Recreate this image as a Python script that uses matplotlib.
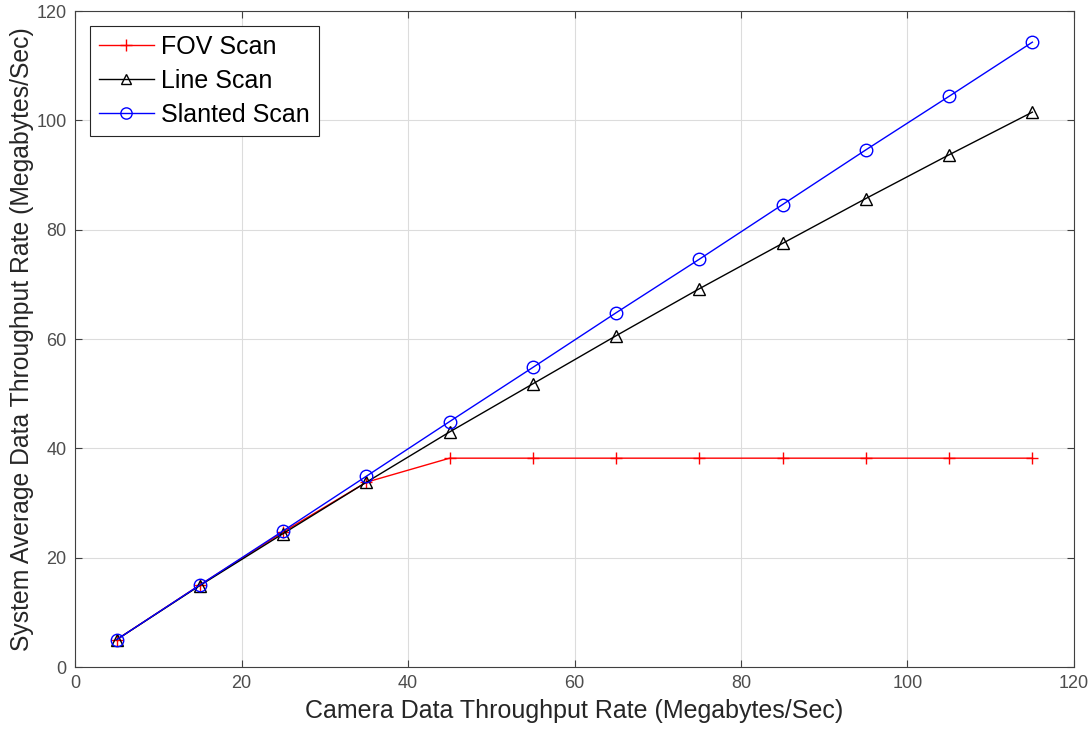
import matplotlib
matplotlib.use('Agg')
import matplotlib.pyplot as plt

plt.rcParams['font.family'] = ['Liberation Sans', 'DejaVu Sans']

camera_rate = [5, 15, 25, 35, 45, 55, 65, 75, 85, 95, 105, 115]
fov_scan = [5, 15, 24.7, 33.8, 38.2, 38.2, 38.2, 38.2, 38.2, 38.2, 38.2, 38.2]
line_scan = [5, 14.9, 24.4, 33.8, 43.0, 51.8, 60.6, 69.2, 77.5, 85.7, 93.7, 101.5]
slanted_scan = [5, 15, 24.9, 34.9, 44.9, 54.8, 64.8, 74.6, 84.6, 94.6, 104.4, 114.3]

fig = plt.figure(figsize=(10.91, 7.33), dpi=100)
ax = fig.add_axes([75/1091, 1 - 667/733, (1074-75)/1091, (667-11)/733])

ax.plot(camera_rate, fov_scan, color='red', marker='+', markersize=9, linewidth=1, label='FOV Scan')
ax.plot(camera_rate, line_scan, color='black', marker='^', markersize=8, markerfacecolor='none',
        linewidth=1, label='Line Scan')
ax.plot(camera_rate, slanted_scan, color='blue', marker='o', markersize=9, markerfacecolor='none',
        linewidth=1, label='Slanted Scan')

ax.set_xlim(0, 120)
ax.set_ylim(0, 120)
ax.set_xticks(range(0, 121, 20))
ax.set_yticks(range(0, 121, 20))
ax.grid(True, color='#dcdcdc', linewidth=0.8)
ax.set_axisbelow(True)
ax.tick_params(direction='in', labelsize=13, colors='#404040', labelcolor='#4d4d4d',
               length=5, pad=6, top=True, right=True)
ax.tick_params(labeltop=False, labelright=False)
for s in ax.spines.values():
    s.set_color('#404040')
    s.set_linewidth(0.8)

ax.set_xlabel('Camera Data Throughput Rate (Megabytes/Sec)', fontsize=18, color='#262626', labelpad=5)
ax.set_ylabel('System Average Data Throughput Rate (Megabytes/Sec)', fontsize=17.8, color='#262626', labelpad=2)

leg = ax.legend(loc='upper left', fontsize=18, fancybox=False, framealpha=1,
                edgecolor='#262626', borderaxespad=0.6, handlelength=2.2, handletextpad=0.3,
                labelspacing=0.4, borderpad=0.35, markerscale=0.9)
leg.get_frame().set_linewidth(0.8)

fig.savefig('out.png', dpi=100)
